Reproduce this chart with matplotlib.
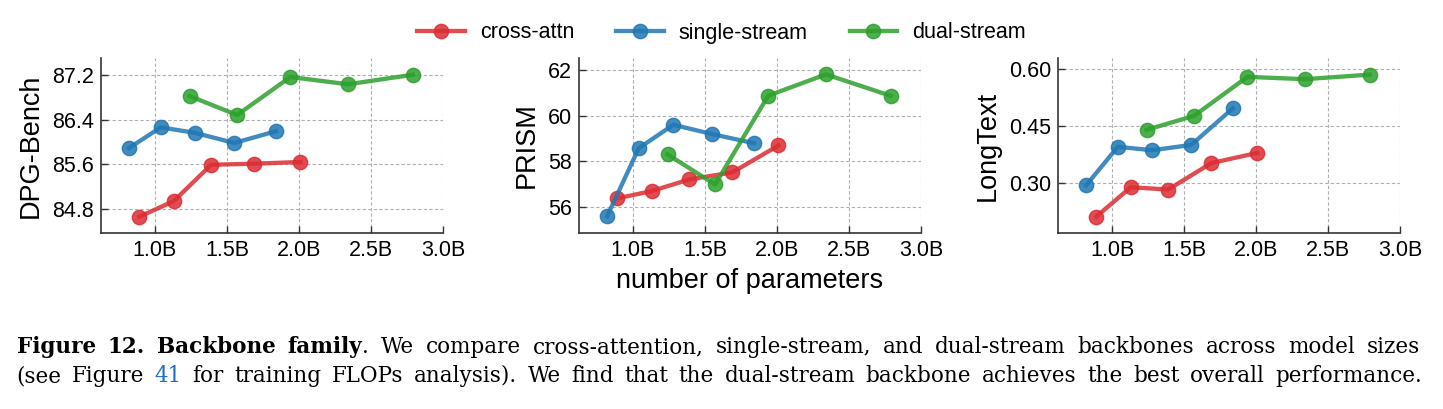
import matplotlib
matplotlib.use("Agg")
import matplotlib.pyplot as plt

# model sizes (billions of parameters)
size_cross = [0.89, 1.13, 1.39, 1.69, 2.01]
size_single = [0.82, 1.04, 1.28, 1.55, 1.84]
size_dual = [1.24, 1.57, 1.94, 2.34, 2.79]

dpg_cross = [84.66, 84.94, 85.59, 85.61, 85.64]
dpg_single = [85.89, 86.26, 86.16, 85.98, 86.19]
dpg_dual = [86.82, 86.48, 87.16, 87.03, 87.20]

prism_cross = [56.38, 56.70, 57.21, 57.52, 58.70]
prism_single = [55.59, 58.58, 59.61, 59.20, 58.80]
prism_dual = [58.31, 56.99, 60.89, 61.82, 60.88]

long_cross = [0.210, 0.288, 0.282, 0.352, 0.379]
long_single = [0.293, 0.395, 0.386, 0.400, 0.497]
long_dual = [0.440, 0.477, 0.580, 0.574, 0.586]

series_names = ["cross-attn", "single-stream", "dual-stream"]
colors = ["#dc2d32", "#1f77b4", "#2ca02c"]
x_ticks = [1.0, 1.5, 2.0, 2.5, 3.0]
x_ticklabels = ["1.0B", "1.5B", "2.0B", "2.5B", "3.0B"]

panels = [
    ("DPG-Bench", [dpg_cross, dpg_single, dpg_dual], [84.8, 85.6, 86.4, 87.2], ["84.8", "85.6", "86.4", "87.2"], (84.37, 87.5)),
    ("PRISM", [prism_cross, prism_single, prism_dual], [56, 58, 60, 62], ["56", "58", "60", "62"], (54.86, 62.54)),
    ("LongText", [long_cross, long_single, long_dual], [0.30, 0.45, 0.60], ["0.30", "0.45", "0.60"], (0.167, 0.63)),
]
sizes = [size_cross, size_single, size_dual]

W, H = 1443, 409
plt.rcParams["font.family"] = ["Liberation Sans", "DejaVu Sans"]
fig = plt.figure(figsize=(W / 100, H / 100), dpi=100)

lefts = [101, 579, 1058]
ax_w, ax_top, ax_bot = 342, 58, 233

for i, (ylabel, vals, yt, ytl, ylim) in enumerate(panels):
    ax = fig.add_axes([lefts[i] / W, 1 - ax_bot / H, ax_w / W, (ax_bot - ax_top) / H])
    for s, v, c, name in zip(sizes, vals, colors, series_names):
        ax.plot(s, v, color=c, lw=3.1, marker="o", ms=10.3, alpha=0.85, label=name)
    ax.set_xlim(0.625, 3.0)
    ax.set_ylim(*ylim)
    ax.set_xticks(x_ticks)
    ax.set_xticklabels(x_ticklabels)
    ax.set_yticks(yt)
    ax.set_yticklabels(ytl)
    ax.set_ylabel(ylabel, fontsize=19.5, labelpad=6)
    if i == 1:
        ax.set_xlabel("number of parameters", fontsize=19.5, labelpad=5)
    ax.grid(True, ls=(0, (3, 2)), color="#b0b0b0", lw=0.8)
    ax.set_axisbelow(True)
    for sp in ["top", "right"]:
        ax.spines[sp].set_visible(False)
    for sp in ["left", "bottom"]:
        ax.spines[sp].set_linewidth(1.2)
        ax.spines[sp].set_color("#333333")
    ax.tick_params(direction="in", length=5, width=1, labelsize=15.5, colors="#333333",
                   labelcolor="black", pad=5)
    if i == 0:
        handles, labels = ax.get_legend_handles_labels()

fig.legend(handles, labels, loc="center", bbox_to_anchor=(0.5, 1 - 33 / H), ncol=3,
           frameon=False, fontsize=15.5, handlelength=2.2, handletextpad=0.7,
           columnspacing=1.95)

# caption, justified word by word
cap_family = ["DejaVu Serif"]
cap_size = 15.5
blue = "#1f6fc5"
line1 = [[("Figure", "bold", "black")], [("12.", "bold", "black")], [("Backbone", "bold", "black")],
         [("family", "bold", "black"), (".", "normal", "black")]]
line1 += [[(w, "normal", "black")] for w in
          "We compare cross-attention, single-stream, and dual-stream backbones across model sizes".split()]
line2 = [[(w, "normal", "black")] for w in "(see Figure".split()]
line2 += [[("41", "normal", blue)]]
line2 += [[(w, "normal", "black")] for w in
          "for training FLOPs analysis). We find that the dual-stream backbone achieves the best overall performance.".split()]

renderer = fig.canvas.get_renderer()


def draw_justified(words, baseline, x0, x1):
    placed = []
    total = 0
    for word in words:
        parts = []
        for txt, wt, col in word:
            t = fig.text(0, baseline, txt, fontsize=cap_size, fontweight=wt, color=col,
                         family=cap_family, va="baseline", ha="left")
            wd = t.get_window_extent(renderer).width
            parts.append((t, wd))
            total += wd
        placed.append(parts)
    gap = max((x1 - x0 - total) / (len(words) - 1), 3)
    x = x0
    for parts in placed:
        for t, wd in parts:
            t.set_x(x / W)
            x += wd
        x += gap


draw_justified(line1, 1 - 353 / H, 17, 1420)
draw_justified(line2, 1 - 382 / H, 16, 1422)

fig.savefig("out.png", dpi=100)
